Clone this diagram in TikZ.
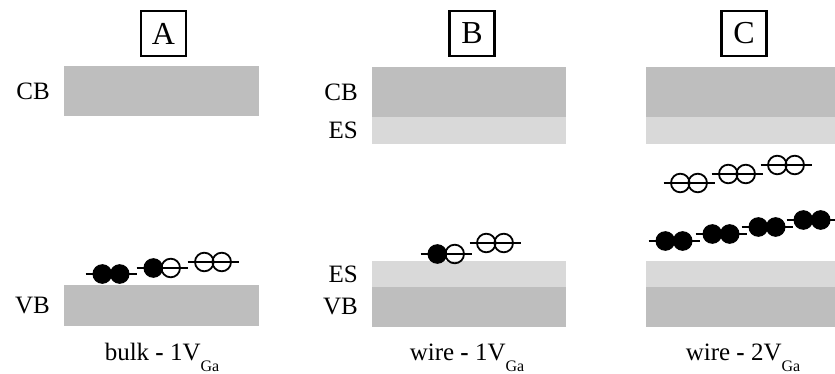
\documentclass[tikz,border=0pt]{standalone}
\usepackage{fontspec}
\setmainfont{Liberation Serif}
\definecolor{bandD}{RGB}{190,190,190}
\definecolor{bandL}{RGB}{217,217,217}
\tikzset{
  band/.style={fill=bandD},
  eband/.style={fill=bandL},
  lbl/.style={font=\fontsize{25}{25}\selectfont, anchor=east, inner sep=0pt},
  titlebox/.style={draw=black, line width=2.2pt, minimum size=45pt, inner sep=0pt, font=\fontsize{32}{32}\selectfont},
  captext/.style={font=\fontsize{25}{25}\selectfont, anchor=base, inner sep=0pt},
  lvl/.style={line width=1.7pt},
  full/.style={fill=black, draw=black, line width=1pt},
  hollow/.style={draw=black, line width=1.8pt},
}
\newcommand\epair[4]{%
  \draw[lvl] ({#1-25.5},#2) -- ({#1+25.5},#2);
  \draw[#3] ({#1-8.7},#2) circle (9.3pt);
  \draw[#4] ({#1+8.7},#2) circle (9.3pt);}
\newcommand\subGa{\raisebox{-11pt}{\fontsize{16}{16}\selectfont Ga}}
\newcommand\bdash{\textbf{-}}
\begin{document}
\begin{tikzpicture}[x=1pt,y=-1pt]
\useasboundingbox (0,0) rectangle (835,374);
% ---- panel A
\node[titlebox] (tA) at (163.5,33.5) {A};
\fill[band] (64,66) rectangle (259,116);
\fill[band] (64,285) rectangle (259,326);
\node[lbl] (cbA) at (50,91) {CB};
\node[lbl] (vbA) at (50,305.5) {VB};
\epair{111}{274}{full}{full}
\epair{162}{268}{full}{hollow}
\epair{213}{262}{hollow}{hollow}
\node[captext] (capA) at (162,360) {bulk \bdash{} 1V\subGa};
% ---- panel B
\node[titlebox] (tB) at (472,33.5) {B};
\fill[band] (372,67) rectangle (566,117);
\fill[eband] (372,117) rectangle (566,144);
\fill[eband] (372,261) rectangle (566,287);
\fill[band] (372,287) rectangle (566,327);
\node[lbl] (cbB) at (358,92) {CB};
\node[lbl] (esB1) at (358,130.5) {ES};
\node[lbl] (esB2) at (358,274) {ES};
\node[lbl] (vbB) at (358,307) {VB};
\epair{446}{254}{full}{hollow}
\epair{495}{243}{hollow}{hollow}
\node[captext] (capB) at (467,360) {wire \bdash{} 1V\subGa};
% ---- panel C
\node[titlebox] (tC) at (744,33.5) {C};
\fill[band] (646,67) rectangle (835,117);
\fill[eband] (646,117) rectangle (835,144);
\fill[eband] (646,261) rectangle (835,287);
\fill[band] (646,287) rectangle (835,327);
\epair{689}{183}{hollow}{hollow}
\epair{737}{174}{hollow}{hollow}
\epair{786}{165}{hollow}{hollow}
\epair{674}{241}{full}{full}
\epair{721}{234}{full}{full}
\epair{767}{227}{full}{full}
\epair{812}{220}{full}{full}
\node[captext] (capC) at (743,360) {wire \bdash{} 2V\subGa};
\end{tikzpicture}
\end{document}
